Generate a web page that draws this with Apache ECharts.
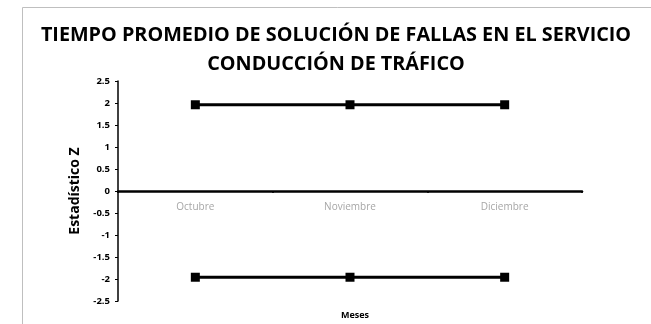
<!DOCTYPE html>
<html>
<head>
<meta charset="utf-8">
<script src="https://cdn.jsdelivr.net/npm/echarts@6/dist/echarts.min.js"></script>
<style>
  html, body { margin: 0; padding: 0; background: #fff; }
  #main { width: 651px; height: 324px; }
</style>
</head>
<body>
<div id="main"></div>
<script>
// datos del grafico
var meses = ['Octubre', 'Noviembre', 'Diciembre'];
var limiteSuperior = [1.96, 1.96, 1.96];
var limiteInferior = [-1.96, -1.96, -1.96];

var myChart = echarts.init(document.getElementById('main'));
var fuente = 'Open Sans';

var option = {
    animation: false,
    title: [{
        text: 'TIEMPO PROMEDIO DE SOLUCIÓN DE FALLAS EN EL SERVICIO\nCONDUCCIÓN DE TRÁFICO',
        left: 331,
        top: 16,
        textAlign: 'center',
        textStyle: {
            fontFamily: fuente,
            fontSize: 19.8,
            fontWeight: 'bold',
            color: '#000',
            lineHeight: 29
        }
    }, {
        text: 'Meses',
        left: 350,
        top: 306,
        textAlign: 'center',
        textStyle: {
            fontFamily: fuente,
            fontSize: 9,
            fontWeight: 'bold',
            color: '#000'
        }
    }],
    graphic: [{
        type: 'rect',
        shape: { x: 22.5, y: 7.5, width: 640, height: 330 },
        style: { fill: 'none', stroke: '#bfbfbf', lineWidth: 1 }
    }],
    grid: {
        left: 118,
        right: 69,
        top: 81,
        bottom: 23,
        containLabel: false
    },
    xAxis: {
        type: 'category',
        data: meses,
        boundaryGap: true,
        position: 'bottom',
        offset: -110,
        axisLine: { onZero: false, lineStyle: { color: '#000', width: 2.5 } },
        axisTick: { show: true, length: 2, lineStyle: { color: '#000', width: 1.5 } },
        axisLabel: {
            color: '#a6a6a6',
            fontFamily: fuente,
            fontSize: 10,
            margin: 11
        },
        splitLine: { show: false }
    },
    yAxis: {
        type: 'value',
        min: -2.5,
        max: 2.5,
        interval: 0.5,
        name: 'Estadístico Z',
        nameLocation: 'middle',
        nameGap: 30,
        nameTextStyle: {
            fontFamily: fuente,
            fontSize: 14,
            fontWeight: 'bold',
            color: '#000'
        },
        axisLine: { show: true, lineStyle: { color: '#000', width: 1.5 } },
        axisTick: { show: true, length: 3, lineStyle: { color: '#000' } },
        axisLabel: {
            color: '#000',
            fontFamily: fuente,
            fontSize: 9.5,
            fontWeight: 'bold',
            margin: 8
        },
        splitLine: { show: false }
    },
    series: [{
        name: 'Superior',
        type: 'line',
        data: limiteSuperior,
        symbol: 'rect',
        symbolSize: 9,
        lineStyle: { color: '#000', width: 3 },
        itemStyle: { color: '#000' }
    }, {
        name: 'Inferior',
        type: 'line',
        data: limiteInferior,
        symbol: 'rect',
        symbolSize: 9,
        lineStyle: { color: '#000', width: 3 },
        itemStyle: { color: '#000' }
    }]
};

myChart.setOption(option);
</script>
</body>
</html>
